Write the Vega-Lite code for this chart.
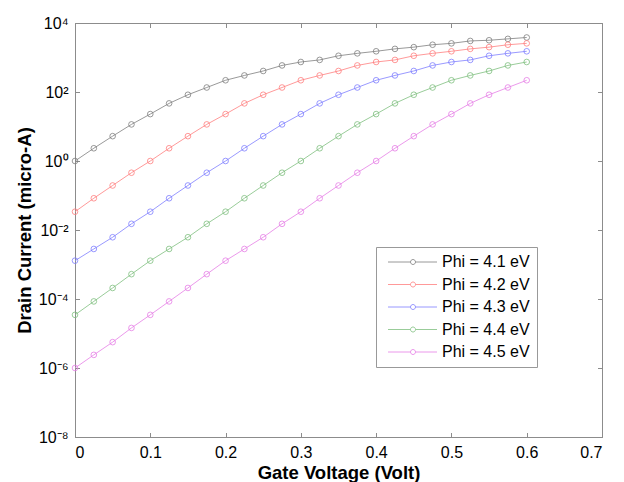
{
  "$schema": "https://vega.github.io/schema/vega-lite/v6.json",
  "width": 527,
  "height": 414,
  "autosize": {"type": "none"},
  "padding": {"left": 75, "top": 23, "right": 22, "bottom": 45},
  "background": "white",
  "config": {
    "font": "Liberation Sans",
    "view": {"stroke": "#8c8c8c", "strokeWidth": 1},
    "axis": {
      "domainColor": "#8c8c8c",
      "tickColor": "#8c8c8c",
      "labelColor": "black",
      "titleColor": "black",
      "labelFont": "Liberation Sans",
      "titleFont": "Liberation Sans",
      "labelFontSize": 16,
      "titleFontSize": 18.5,
      "titleFontWeight": "bold",
      "grid": false,
      "tickSize": -4.5,
      "labelPadding": 11.5
    }
  },
  "data": {
    "values": [
      {"V": 0, "phi": "Phi = 4.1 eV", "I": 1},
      {"V": 0.025, "phi": "Phi = 4.1 eV", "I": 2.34},
      {"V": 0.05, "phi": "Phi = 4.1 eV", "I": 5.25},
      {"V": 0.075, "phi": "Phi = 4.1 eV", "I": 11.5},
      {"V": 0.1, "phi": "Phi = 4.1 eV", "I": 22.9},
      {"V": 0.125, "phi": "Phi = 4.1 eV", "I": 46.8},
      {"V": 0.15, "phi": "Phi = 4.1 eV", "I": 83.2},
      {"V": 0.175, "phi": "Phi = 4.1 eV", "I": 135},
      {"V": 0.2, "phi": "Phi = 4.1 eV", "I": 219},
      {"V": 0.225, "phi": "Phi = 4.1 eV", "I": 302},
      {"V": 0.25, "phi": "Phi = 4.1 eV", "I": 407},
      {"V": 0.275, "phi": "Phi = 4.1 eV", "I": 589},
      {"V": 0.3, "phi": "Phi = 4.1 eV", "I": 741},
      {"V": 0.325, "phi": "Phi = 4.1 eV", "I": 851},
      {"V": 0.35, "phi": "Phi = 4.1 eV", "I": 1122},
      {"V": 0.375, "phi": "Phi = 4.1 eV", "I": 1318},
      {"V": 0.4, "phi": "Phi = 4.1 eV", "I": 1514},
      {"V": 0.425, "phi": "Phi = 4.1 eV", "I": 1778},
      {"V": 0.45, "phi": "Phi = 4.1 eV", "I": 1995},
      {"V": 0.475, "phi": "Phi = 4.1 eV", "I": 2344},
      {"V": 0.5, "phi": "Phi = 4.1 eV", "I": 2570},
      {"V": 0.525, "phi": "Phi = 4.1 eV", "I": 3020},
      {"V": 0.55, "phi": "Phi = 4.1 eV", "I": 3162},
      {"V": 0.575, "phi": "Phi = 4.1 eV", "I": 3467},
      {"V": 0.6, "phi": "Phi = 4.1 eV", "I": 3802},
      {"V": 0, "phi": "Phi = 4.2 eV", "I": 0.0339},
      {"V": 0.025, "phi": "Phi = 4.2 eV", "I": 0.0832},
      {"V": 0.05, "phi": "Phi = 4.2 eV", "I": 0.195},
      {"V": 0.075, "phi": "Phi = 4.2 eV", "I": 0.457},
      {"V": 0.1, "phi": "Phi = 4.2 eV", "I": 1},
      {"V": 0.125, "phi": "Phi = 4.2 eV", "I": 2.34},
      {"V": 0.15, "phi": "Phi = 4.2 eV", "I": 5.25},
      {"V": 0.175, "phi": "Phi = 4.2 eV", "I": 11.5},
      {"V": 0.2, "phi": "Phi = 4.2 eV", "I": 22.9},
      {"V": 0.225, "phi": "Phi = 4.2 eV", "I": 46.8},
      {"V": 0.25, "phi": "Phi = 4.2 eV", "I": 83.2},
      {"V": 0.275, "phi": "Phi = 4.2 eV", "I": 135},
      {"V": 0.3, "phi": "Phi = 4.2 eV", "I": 219},
      {"V": 0.325, "phi": "Phi = 4.2 eV", "I": 302},
      {"V": 0.35, "phi": "Phi = 4.2 eV", "I": 407},
      {"V": 0.375, "phi": "Phi = 4.2 eV", "I": 589},
      {"V": 0.4, "phi": "Phi = 4.2 eV", "I": 741},
      {"V": 0.425, "phi": "Phi = 4.2 eV", "I": 851},
      {"V": 0.45, "phi": "Phi = 4.2 eV", "I": 1122},
      {"V": 0.475, "phi": "Phi = 4.2 eV", "I": 1318},
      {"V": 0.5, "phi": "Phi = 4.2 eV", "I": 1514},
      {"V": 0.525, "phi": "Phi = 4.2 eV", "I": 1778},
      {"V": 0.55, "phi": "Phi = 4.2 eV", "I": 1995},
      {"V": 0.575, "phi": "Phi = 4.2 eV", "I": 2344},
      {"V": 0.6, "phi": "Phi = 4.2 eV", "I": 2570},
      {"V": 0, "phi": "Phi = 4.3 eV", "I": 0.00129},
      {"V": 0.025, "phi": "Phi = 4.3 eV", "I": 0.00282},
      {"V": 0.05, "phi": "Phi = 4.3 eV", "I": 0.00617},
      {"V": 0.075, "phi": "Phi = 4.3 eV", "I": 0.0151},
      {"V": 0.1, "phi": "Phi = 4.3 eV", "I": 0.0339},
      {"V": 0.125, "phi": "Phi = 4.3 eV", "I": 0.0832},
      {"V": 0.15, "phi": "Phi = 4.3 eV", "I": 0.195},
      {"V": 0.175, "phi": "Phi = 4.3 eV", "I": 0.457},
      {"V": 0.2, "phi": "Phi = 4.3 eV", "I": 1},
      {"V": 0.225, "phi": "Phi = 4.3 eV", "I": 2.34},
      {"V": 0.25, "phi": "Phi = 4.3 eV", "I": 5.25},
      {"V": 0.275, "phi": "Phi = 4.3 eV", "I": 11.5},
      {"V": 0.3, "phi": "Phi = 4.3 eV", "I": 22.9},
      {"V": 0.325, "phi": "Phi = 4.3 eV", "I": 46.8},
      {"V": 0.35, "phi": "Phi = 4.3 eV", "I": 83.2},
      {"V": 0.375, "phi": "Phi = 4.3 eV", "I": 135},
      {"V": 0.4, "phi": "Phi = 4.3 eV", "I": 219},
      {"V": 0.425, "phi": "Phi = 4.3 eV", "I": 302},
      {"V": 0.45, "phi": "Phi = 4.3 eV", "I": 407},
      {"V": 0.475, "phi": "Phi = 4.3 eV", "I": 589},
      {"V": 0.5, "phi": "Phi = 4.3 eV", "I": 741},
      {"V": 0.525, "phi": "Phi = 4.3 eV", "I": 851},
      {"V": 0.55, "phi": "Phi = 4.3 eV", "I": 1122},
      {"V": 0.575, "phi": "Phi = 4.3 eV", "I": 1318},
      {"V": 0.6, "phi": "Phi = 4.3 eV", "I": 1514},
      {"V": 0, "phi": "Phi = 4.4 eV", "I": 0.0000347},
      {"V": 0.025, "phi": "Phi = 4.4 eV", "I": 0.0000851},
      {"V": 0.05, "phi": "Phi = 4.4 eV", "I": 0.000209},
      {"V": 0.075, "phi": "Phi = 4.4 eV", "I": 0.000525},
      {"V": 0.1, "phi": "Phi = 4.4 eV", "I": 0.00129},
      {"V": 0.125, "phi": "Phi = 4.4 eV", "I": 0.00282},
      {"V": 0.15, "phi": "Phi = 4.4 eV", "I": 0.00617},
      {"V": 0.175, "phi": "Phi = 4.4 eV", "I": 0.0151},
      {"V": 0.2, "phi": "Phi = 4.4 eV", "I": 0.0339},
      {"V": 0.225, "phi": "Phi = 4.4 eV", "I": 0.0832},
      {"V": 0.25, "phi": "Phi = 4.4 eV", "I": 0.195},
      {"V": 0.275, "phi": "Phi = 4.4 eV", "I": 0.457},
      {"V": 0.3, "phi": "Phi = 4.4 eV", "I": 1},
      {"V": 0.325, "phi": "Phi = 4.4 eV", "I": 2.34},
      {"V": 0.35, "phi": "Phi = 4.4 eV", "I": 5.25},
      {"V": 0.375, "phi": "Phi = 4.4 eV", "I": 11.5},
      {"V": 0.4, "phi": "Phi = 4.4 eV", "I": 22.9},
      {"V": 0.425, "phi": "Phi = 4.4 eV", "I": 46.8},
      {"V": 0.45, "phi": "Phi = 4.4 eV", "I": 83.2},
      {"V": 0.475, "phi": "Phi = 4.4 eV", "I": 135},
      {"V": 0.5, "phi": "Phi = 4.4 eV", "I": 219},
      {"V": 0.525, "phi": "Phi = 4.4 eV", "I": 302},
      {"V": 0.55, "phi": "Phi = 4.4 eV", "I": 407},
      {"V": 0.575, "phi": "Phi = 4.4 eV", "I": 589},
      {"V": 0.6, "phi": "Phi = 4.4 eV", "I": 741},
      {"V": 0, "phi": "Phi = 4.5 eV", "I": 0.000001},
      {"V": 0.025, "phi": "Phi = 4.5 eV", "I": 0.0000024},
      {"V": 0.05, "phi": "Phi = 4.5 eV", "I": 0.00000562},
      {"V": 0.075, "phi": "Phi = 4.5 eV", "I": 0.0000145},
      {"V": 0.1, "phi": "Phi = 4.5 eV", "I": 0.0000347},
      {"V": 0.125, "phi": "Phi = 4.5 eV", "I": 0.0000851},
      {"V": 0.15, "phi": "Phi = 4.5 eV", "I": 0.000209},
      {"V": 0.175, "phi": "Phi = 4.5 eV", "I": 0.000525},
      {"V": 0.2, "phi": "Phi = 4.5 eV", "I": 0.00129},
      {"V": 0.225, "phi": "Phi = 4.5 eV", "I": 0.00282},
      {"V": 0.25, "phi": "Phi = 4.5 eV", "I": 0.00617},
      {"V": 0.275, "phi": "Phi = 4.5 eV", "I": 0.0151},
      {"V": 0.3, "phi": "Phi = 4.5 eV", "I": 0.0339},
      {"V": 0.325, "phi": "Phi = 4.5 eV", "I": 0.0832},
      {"V": 0.35, "phi": "Phi = 4.5 eV", "I": 0.195},
      {"V": 0.375, "phi": "Phi = 4.5 eV", "I": 0.457},
      {"V": 0.4, "phi": "Phi = 4.5 eV", "I": 1},
      {"V": 0.425, "phi": "Phi = 4.5 eV", "I": 2.34},
      {"V": 0.45, "phi": "Phi = 4.5 eV", "I": 5.25},
      {"V": 0.475, "phi": "Phi = 4.5 eV", "I": 11.5},
      {"V": 0.5, "phi": "Phi = 4.5 eV", "I": 22.9},
      {"V": 0.525, "phi": "Phi = 4.5 eV", "I": 46.8},
      {"V": 0.55, "phi": "Phi = 4.5 eV", "I": 83.2},
      {"V": 0.575, "phi": "Phi = 4.5 eV", "I": 135},
      {"V": 0.6, "phi": "Phi = 4.5 eV", "I": 219}
    ]
  },
  "resolve": {"axis": {"x": "independent", "y": "independent"}},
  "layer": [
    {
      "mark": {"type": "line", "strokeWidth": 0.8},
      "encoding": {
        "x": {
          "field": "V", "type": "quantitative",
          "scale": {"domain": [0, 0.7], "nice": false, "zero": false},
          "axis": {
            "orient": "bottom", "values": [0, 0.1, 0.2, 0.3, 0.4, 0.5, 0.6, 0.7],
            "labelExpr": "datum.value === 0 ? '0' : format(datum.value, '.1f')",
            "title": "Gate Voltage (Volt)", "titlePadding": 3
          }
        },
        "y": {
          "field": "I", "type": "quantitative",
          "scale": {"type": "log", "domain": [1e-8, 10000], "nice": false},
          "axis": {
            "orient": "left",
            "values": [1e-8, 1e-6, 0.0001, 0.01, 1, 100, 10000],
            "labelExpr": "'10' + (datum.value < 0.5 ? '⁻' : '') + ['⁰','¹','²','³','⁴','⁵','⁶','⁷','⁸','⁹'][abs(round(log(datum.value) / LN10))]",
            "title": "Drain Current (micro-A)", "titlePadding": 4
          }
        },
        "color": {
          "field": "phi", "type": "nominal",
          "scale": {
            "domain": ["Phi = 4.1 eV", "Phi = 4.2 eV", "Phi = 4.3 eV", "Phi = 4.4 eV", "Phi = 4.5 eV"],
            "range": ["#7f7f7f", "#ff7f7f", "#7f7fff", "#7fbf7f", "#e67fe6"]
          },
          "legend": {
            "orient": "none", "legendX": 301, "legendY": 224,
            "title": null,
            "strokeColor": "#999999", "fillColor": "white",
            "padding": 7,
            "labelFont": "Liberation Sans", "labelFontSize": 16, "labelColor": "black",
            "labelOffset": 43,
            "rowPadding": 6.5,
            "symbolType": "M-1.5,0H9.75M12.25,0H23M12.25,0A1.25,1.25,0,1,1,9.75,0A1.25,1.25,0,1,1,12.25,0",
            "symbolSize": 16,
            "symbolStrokeWidth": 0.8,
            "symbolFillColor": "transparent",
            "encode": {
              "symbols": {
                "update": {
                  "fill": {"value": "transparent"},
                  "stroke": {"scale": "color", "field": "value"},
                  "strokeWidth": {"value": 0.8},
                  "opacity": {"value": 1}
                }
              }
            }
          }
        }
      }
    },
    {
      "mark": {"type": "point", "shape": "circle", "filled": false, "size": 32, "strokeWidth": 0.8, "opacity": 1},
      "encoding": {
        "x": {
          "field": "V", "type": "quantitative",
          "axis": {"orient": "top", "values": [0, 0.1, 0.2, 0.3, 0.4, 0.5, 0.6, 0.7], "labels": false, "title": null}
        },
        "y": {
          "field": "I", "type": "quantitative",
          "axis": {"orient": "right", "values": [1e-8, 1e-6, 0.0001, 0.01, 1, 100, 10000], "labels": false, "title": null}
        },
        "color": {"field": "phi", "type": "nominal"}
      }
    }
  ]
}
